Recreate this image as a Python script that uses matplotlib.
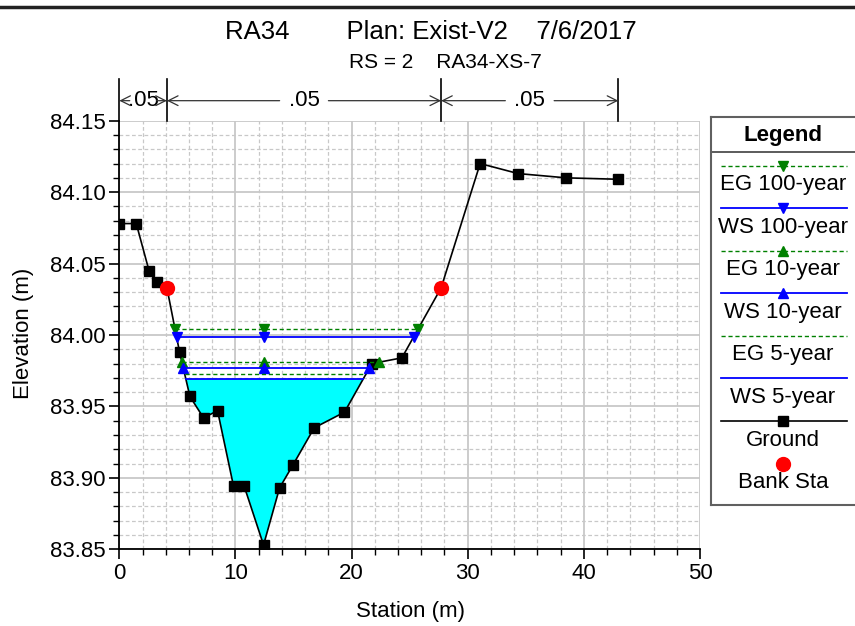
import numpy as np
import matplotlib
matplotlib.use('Agg')
import matplotlib.pyplot as plt
import matplotlib.transforms as mtransforms
from matplotlib.lines import Line2D

# cross section data
station = [0.0, 1.46, 2.56, 3.27, 4.10, 5.19, 6.08, 7.25, 8.46, 9.84, 10.76, 12.42,
           13.80, 14.95, 16.78, 19.39, 21.75, 24.33, 27.71, 31.07, 34.34, 38.47, 42.97]
elev = [84.078, 84.078, 84.045, 84.037, 84.033, 83.988, 83.957, 83.942, 83.947, 83.894,
        83.894, 83.853, 83.893, 83.909, 83.935, 83.946, 83.980, 83.984, 84.033, 84.120,
        84.113, 84.110, 84.109]
bank_idx = [4, 18]
n_vals = [0.05, 0.05, 0.05]

profiles = ['100-year', '10-year', '5-year']
ws_elev = [83.9988, 83.9767, 83.9690]
eg_elev = [84.0040, 83.9809, 83.9729]
prof_marker = ['v', '^', None]

title = 'RA34        Plan: Exist-V2    7/6/2017'
subtitle = 'RS = 2    RA34-XS-7'

plt.rcParams['font.family'] = ['Liberation Sans', 'DejaVu Sans']
FS = 16

W, H = 855, 626
fig = plt.figure(figsize=(W / 100, H / 100), dpi=100)
ax = fig.add_axes([119.3 / W, 1 - 549.3 / H, (700 - 119.3) / W, (549.3 - 120.7) / H])

sta = np.array(station)
elv = np.array(elev)


def crossing(level):
    # where the water level meets the ground on either side of the thalweg
    lo = int(np.argmin(elv))
    i = lo
    while elv[i - 1] < level:
        i -= 1
    xl = np.interp(level, [elv[i], elv[i - 1]], [sta[i], sta[i - 1]])
    j = lo
    while elv[j + 1] < level:
        j += 1
    xr = np.interp(level, [elv[j], elv[j + 1]], [sta[j], sta[j + 1]])
    return xl, xr, i, j


thalweg = sta[int(np.argmin(elv))]

# water fill for the lowest profile
xl, xr, i, j = crossing(ws_elev[-1])
fx = [xl] + list(sta[i:j + 1]) + [xr]
fy = [ws_elev[-1]] + list(elv[i:j + 1]) + [ws_elev[-1]]
ax.fill(fx, fy, color='#00ffff', lw=0, zorder=2)

ax.plot(sta, elv, color='black', lw=1.2, marker='s', ms=7.5, zorder=4)
ax.plot(sta[bank_idx], elv[bank_idx], ls='none', marker='o', ms=10, color='red', zorder=6)

for k, p in enumerate(profiles):
    for lev, col, ls, lw in [(eg_elev[k], '#008000', (0, (3, 2)), 1.0),
                             (ws_elev[k], '#0000ff', '-', 1.3)]:
        a, b, _, _ = crossing(lev)
        ax.plot([a, b], [lev, lev], color=col, ls=ls, lw=lw, zorder=5)
        if prof_marker[k]:
            ax.plot([a, thalweg, b], [lev] * 3, ls='none', marker=prof_marker[k],
                    ms=7, color=col, zorder=5)

ax.set_xlim(0, 50)
ax.set_ylim(83.85, 84.15)
ax.set_xticks(np.arange(0, 51, 10))
ax.set_xticks(np.arange(0, 51, 2), minor=True)
ax.set_yticks(np.arange(83.85, 84.1501, 0.05))
ax.set_yticks(np.arange(83.85, 84.1501, 0.01), minor=True)
ax.yaxis.set_major_formatter(matplotlib.ticker.FormatStrFormatter('%.2f'))
ax.grid(which='major', color='#c8c8c8', lw=1.3, ls='-')
ax.grid(which='minor', color='#c8c8c8', lw=0.9, ls=(0, (3, 2)))
ax.set_axisbelow(True)
for s in ['top', 'right']:
    ax.spines[s].set_visible(False)
for s in ['left', 'bottom']:
    ax.spines[s].set_linewidth(1.3)
ax.tick_params(which='major', length=7, width=1.2, labelsize=FS, pad=3)
ax.tick_params(which='minor', length=4, width=1.0)

fig.text(410 / W, 1 - 611 / H, 'Station (m)', ha='center', va='center', fontsize=FS)
fig.text(24 / W, 1 - 333 / H, 'Elevation (m)', ha='center', va='center', fontsize=FS,
         rotation=90)

fig.text(431 / W, 1 - 32 / H, title, ha='center', va='center', fontsize=18.5)
fig.text(445 / W, 1 - 63 / H, subtitle, ha='center', va='center', fontsize=15)
fig.add_artist(Line2D([0, 1], [1 - 6.5 / H] * 2, transform=fig.transFigure,
                      color='#222222', lw=2.5))

# Manning's n above the plot
trans = mtransforms.blended_transform_factory(ax.transData, ax.transAxes)
n_breaks = [sta[0], sta[bank_idx[0]], sta[bank_idx[1]], sta[-1]]
ya = 1.0467
for xb in n_breaks:
    ax.plot([xb, xb], [1.0, 1.097], transform=trans, color='black', lw=1.2, clip_on=False)
for k, n in enumerate(n_vals):
    x0, x1 = n_breaks[k], n_breaks[k + 1]
    xc = (x0 + x1) / 2
    ax.text(xc, ya, ('%.2f' % n).lstrip('0'), transform=trans, ha='center', va='center',
            fontsize=FS)
    gap, head = 2.1, 0.9
    for xa, xs in [(x0, max(xc - gap, x0 + head)), (x1, min(xc + gap, x1 - head))]:
        ax.annotate('', xy=(xa, ya), xytext=(xs, ya), xycoords=trans, textcoords=trans,
                    arrowprops=dict(arrowstyle='->,head_length=0.7,head_width=0.35',
                                    color='#333333', lw=0.9, shrinkA=0, shrinkB=0))

# legend panel
lax = fig.add_axes([711 / W, 1 - 505 / H, 150 / W, (505 - 117) / H])
lax.set_xlim(711, 861)
lax.set_ylim(505, 117)
lax.set_xticks([])
lax.set_yticks([])
for s in lax.spines.values():
    s.set_color('#606060')
    s.set_linewidth(1.5)
lax.text(783, 135, 'Legend', ha='center', va='center', fontsize=FS, fontweight='bold')
lax.plot([711, 861], [151.7, 151.7], color='#404040', lw=1.2)

entries = []
for k, p in enumerate(profiles):
    entries.append(('EG ' + p, '#008000', (0, (3, 2)), 1.0, prof_marker[k]))
    entries.append(('WS ' + p, '#0000ff', '-', 1.3, prof_marker[k]))
entries.append(('Ground', 'black', '-', 1.2, 's'))
row_y = 165.7
for label, col, ls, lw, mk in entries:
    lax.plot([721, 846.7], [row_y, row_y], color=col, ls=ls, lw=lw)
    if mk:
        lax.plot([783.3], [row_y], marker=mk, color=col, ms=7.5 if mk == 's' else 7)
    lax.text(783, row_y + 19, label, ha='center', va='center', fontsize=FS)
    row_y += 42.55
lax.plot([783.3], [464], marker='o', color='red', ms=10)
lax.text(783, 482, 'Bank Sta', ha='center', va='center', fontsize=FS)

fig.savefig('out.png', dpi=100)
